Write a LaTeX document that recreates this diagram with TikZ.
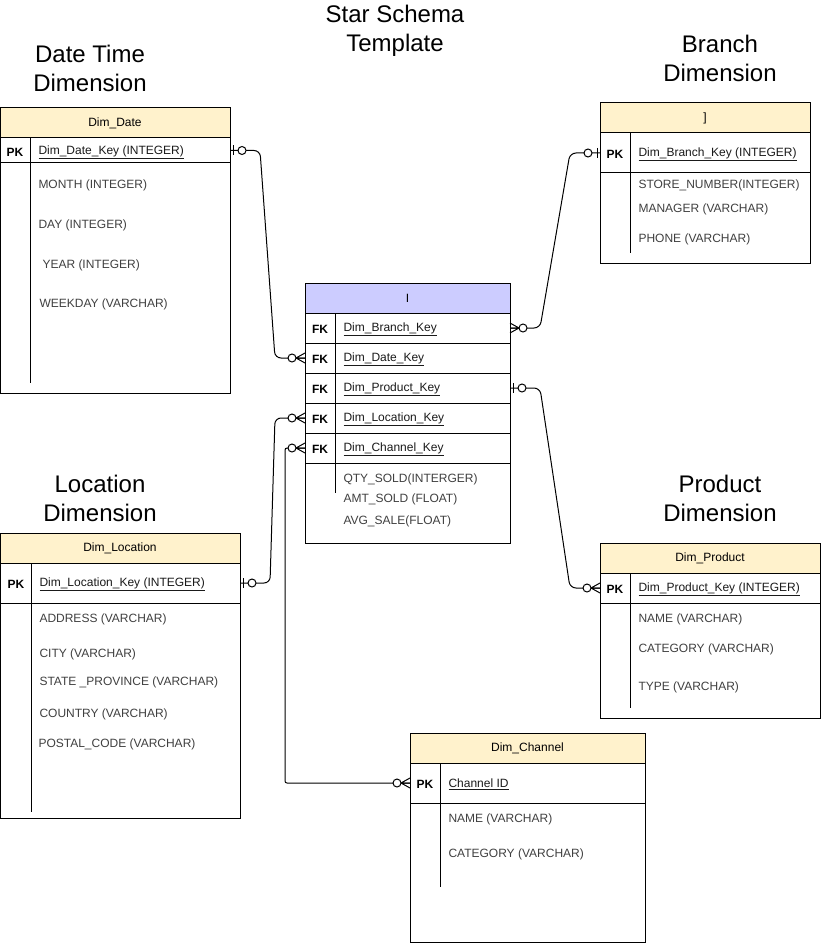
\documentclass[tikz,border=0pt]{standalone}
\usepackage{fontspec}
\setmainfont{Liberation Sans}
\usetikzlibrary{calc}

\definecolor{hdrYellow}{RGB}{255,242,204}
\definecolor{hdrViolet}{RGB}{204,204,255}
\definecolor{fieldgray}{RGB}{64,64,64}
\definecolor{keyblack}{RGB}{26,26,26}

% underlined key column name
\newcommand{\keyul}[1]{\underline{#1}}

% zero-or-one end mark (bar + circle), #1 anchor, #2 = 1 (outward right) or -1 (outward left)
\newcommand{\erOne}[2]{%
  \begin{scope}[shift={(#1)},xscale=#2]
    \draw (3,-5) -- (3,5);
    \draw[fill=white] (12,0) circle (4);
  \end{scope}}
% zero-or-many end mark (crow's foot + circle)
\newcommand{\erMany}[2]{%
  \begin{scope}[shift={(#1)},xscale=#2]
    \draw (0,-5) -- (9,0) -- (0,5) (0,0) -- (9,0);
    \draw[fill=white] (13,0) circle (4);
  \end{scope}}

\begin{document}
\begin{tikzpicture}[x=1pt,y=-1pt,line width=1pt,
  box/.style={draw,anchor=north west,inner sep=0,outer sep=0},
  hdr/.style={box,fill=hdrYellow,minimum height=30,font=\fontsize{12}{14}\selectfont},
  facthdr/.style={hdr,fill=hdrViolet},
  tag/.style={anchor=center,inner sep=0,yshift=-1pt,font=\fontsize{12}{14}\selectfont\bfseries},
  keyname/.style={anchor=west,inner sep=0,yshift=-1pt,text=keyblack,font=\fontsize{12}{14}\selectfont},
  field/.style={anchor=west,inner sep=0,yshift=-1pt,text=fieldgray,font=\fontsize{12}{14}\selectfont},
  title/.style={align=center,inner sep=0,font=\fontsize{24}{29}\selectfont},
  link/.style={draw,line width=1pt,rounded corners=6}]

\fill[white] (0,0) rectangle (822,944);
\useasboundingbox (0,0) rectangle (822,944);

% ---------- titles ----------
\node[title] (ttl)      at (395,31)  {Star Schema\\Template};
\node[title] (ttldate)  at (90,68)   {Date Time\\Dimension};
\node[title] (ttlbr)    at (720,58)  {Branch\\Dimension};
\node[title] (ttlloc)   at (100,498) {Location\\Dimension};
\node[title] (ttlprod)  at (720,498) {Product\\Dimension};

% ---------- Dim_Date ----------
\node[hdr,minimum width=230] (date) at (0,108) {Dim\_Date};
\node[box,minimum width=230,minimum height=25] (datepk) at (0,138) {};
\node[box,minimum width=230,minimum height=230] (datebody) at (0,163) {};
\draw (30,138) -- (30,383);
\node[tag] at (15,151) {PK};
\node[keyname] at (38,151) {\keyul{Dim\_Date\_Key (INTEGER)}};
\node[field] at (38,184) {MONTH (INTEGER)};
\node[field] at (38,224) {DAY (INTEGER)};
\node[field] at (42,264) {YEAR (INTEGER)};
\node[field] at (39,303) {WEEKDAY (VARCHAR)};

% ---------- Branch ----------
\node[hdr,minimum width=210] (branch) at (600,103) {]};
\node[box,minimum width=210,minimum height=40] (branchpk) at (600,133) {};
\node[box,minimum width=210,minimum height=90] (branchbody) at (600,173) {};
\draw (630,133) -- (630,253);
\node[tag] at (615,153) {PK};
\node[keyname] at (638,153) {\keyul{Dim\_Branch\_Key (INTEGER)}};
\node[field] at (638,184) {STORE\_NUMBER(INTEGER)};
\node[field] at (638,208) {MANAGER (VARCHAR)};
\node[field] at (638,238) {PHONE (VARCHAR)};

% ---------- fact table ----------
\node[facthdr,minimum width=205] (fact) at (305,283) {I};
\node[box,minimum width=205,minimum height=30] (factbranch)  at (305,313) {};
\node[box,minimum width=205,minimum height=30] (factdate)    at (305,343) {};
\node[box,minimum width=205,minimum height=30] (factproduct) at (305,373) {};
\node[box,minimum width=205,minimum height=30] (factloc)     at (305,403) {};
\node[box,minimum width=205,minimum height=30] (factchannel) at (305,433) {};
\node[box,minimum width=205,minimum height=80] (factbody)    at (305,463) {};
\draw (335,313) -- (335,493);
\foreach \y/\k in {328/Branch,358/Date,388/Product,418/Location,448/Channel}{
  \node[tag] at (320,\y) {FK};
  \node[keyname] at (343,\y) {\keyul{Dim\_\k\_Key}};
}
\node[field] at (343,478) {QTY\_SOLD(INTERGER)};
\node[field] at (343,498) {AMT\_SOLD (FLOAT)};
\node[field] at (343,520) {AVG\_SALE(FLOAT)};

% ---------- Dim_Location ----------
\node[hdr,minimum width=240] (loc) at (0,533) {Dim\_Location};
\node[box,minimum width=240,minimum height=40] (locpk) at (0,563) {};
\node[box,minimum width=240,minimum height=215] (locbody) at (0,603) {};
\draw (31,563) -- (31,812);
\node[tag] at (16,583) {PK};
\node[keyname] at (39,583) {\keyul{Dim\_Location\_Key (INTEGER)}};
\node[field] at (39,618) {ADDRESS (VARCHAR)};
\node[field] at (39,653) {CITY (VARCHAR)};
\node[field] at (39,681) {STATE \_PROVINCE (VARCHAR)};
\node[field] at (39,713) {COUNTRY (VARCHAR)};
\node[field] at (38,743) {POSTAL\_CODE (VARCHAR)};

% ---------- Dim_Product ----------
\node[hdr,minimum width=220] (prod) at (600,543) {Dim\_Product};
\node[box,minimum width=220,minimum height=30] (prodpk) at (600,573) {};
\node[box,minimum width=220,minimum height=115] (prodbody) at (600,603) {};
\draw (630,573) -- (630,708);
\node[tag] at (615,588) {PK};
\node[keyname] at (638,588) {\keyul{Dim\_Product\_Key (INTEGER)}};
\node[field] at (638,618) {NAME (VARCHAR)};
\node[field] at (638,648) {CATEGORY (VARCHAR)};
\node[field] at (638,686) {TYPE (VARCHAR)};

% ---------- Dim_Channel ----------
\node[hdr,minimum width=235] (chan) at (410,733) {Dim\_Channel};
\node[box,minimum width=235,minimum height=40] (chanpk) at (410,763) {};
\node[box,minimum width=235,minimum height=139] (chanbody) at (410,803) {};
\draw (440,763) -- (440,887);
\node[tag] at (425,783) {PK};
\node[keyname] at (448,783) {\keyul{Channel ID}};
\node[field] at (448,818) {NAME (VARCHAR)};
\node[field] at (448,853) {CATEGORY (VARCHAR)};

% ---------- relationships ----------
\draw[link] (datepk.east) -- ($(datepk.east)+(30,0)$) -- ($(factdate.west)+(-30,0)$) -- (factdate.west);
\draw[link] (factbranch.east) -- ($(factbranch.east)+(30,0)$) -- ($(branchpk.west)+(-30,0)$) -- (branchpk.west);
\draw[link] (factproduct.east) -- ($(factproduct.east)+(30,0)$) -- ($(prodpk.west)+(-30,0)$) -- (prodpk.west);
\draw[link] (locpk.east) -- ($(locpk.east)+(30,0)$) -- ($(factloc.west)+(-30,0)$) -- (factloc.west);
\draw[link,rounded corners=2] (factchannel.west) -- ($(factchannel.west)+(-20,0)$) |- (chanpk.west);

\erOne{datepk.east}{1}
\erMany{factdate.west}{-1}
\erMany{factbranch.east}{1}
\erOne{branchpk.west}{-1}
\erOne{factproduct.east}{1}
\erMany{prodpk.west}{-1}
\erOne{locpk.east}{1}
\erMany{factloc.west}{-1}
\erMany{factchannel.west}{-1}
\erMany{chanpk.west}{-1}

\end{tikzpicture}
\end{document}
